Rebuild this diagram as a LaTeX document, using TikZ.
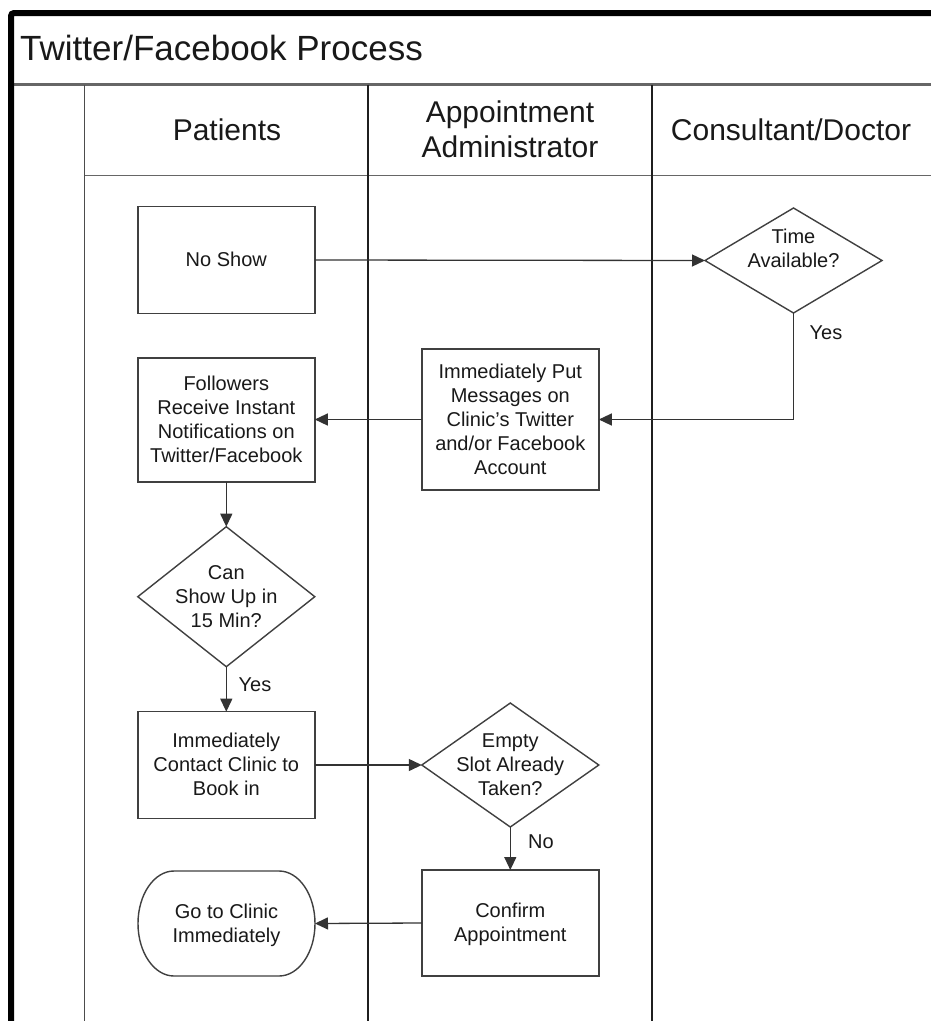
\documentclass[tikz,border=0pt]{standalone}
\usepackage{fontspec}
\setmainfont{Liberation Sans}
\usetikzlibrary{arrows.meta,shapes.geometric,calc}
\newcommand\dtxt[2][0pt]{\makebox[0pt]{\raisebox{\dimexpr-7pt+#1\relax}[0pt][0pt]{\begin{tabular}{@{}c@{}}#2\end{tabular}}}}
\begin{document}
\begin{tikzpicture}[x=1pt,y=-1pt,
  every node/.style={font=\fontsize{20}{24}\selectfont, text=black!90},
  box/.style={draw=black!75, line width=1.4pt, rectangle, inner sep=0pt, outer sep=0pt, minimum width=177pt},
  dec/.style={draw=black!75, line width=1.4pt, diamond, inner sep=0pt, outer sep=0pt, minimum width=177pt},
  term/.style={rectangle, inner sep=0pt, outer sep=0pt, minimum width=177pt, minimum height=105pt},
  termline/.style={draw=black!75, line width=1.4pt},
  arr/.style={draw=black!80, line width=1.3pt, -{Triangle[length=13pt,width=12pt]}},
  lane/.style={draw=black!88, line width=1.6pt},
  hdr/.style={font=\fontsize{30}{35}\selectfont, align=center, text=black!90},
  lbl/.style={font=\fontsize{20}{24}\selectfont, text=black!90}]
\clip (0,0) rectangle (931,1021);
\fill[white] (0,0) rectangle (931,1021);

% pool frame and lanes
\draw[line width=2.5pt, black!60] (11,84.5) -- (940,84.5);
\draw[line width=1.8pt, black!60] (84.3,175.5) -- (940,175.5);
\draw[line width=1.3pt, black!70] (84.3,84.5) -- (84.3,1030);
\draw[lane] (367.7,84.5) -- (367.7,1030);
\draw[lane] (651.7,84.5) -- (651.7,1030);
\draw[line width=6pt, black, rounded corners=3pt] (11,1040) -- (11,13) -- (950,13);

% titles
\node[font=\fontsize{35}{40}\selectfont, anchor=base west, inner sep=0pt] (title) at (20,60) {Twitter/Facebook Process};
\node[hdr] (hpat) at (227,130) {Patients};
\node[hdr] (hadm) at (510,129) {Appointment\\Administrator};
\node[hdr] (hdoc) at (791,130) {Consultant/Doctor};

% nodes
\node[box, minimum height=106.6pt] (ns) at (226.3,260) {\dtxt{No Show}};
\node[dec, minimum height=105pt] (ta) at (793.5,260.5) {\dtxt[12pt]{Time\\Available?}};
\node[box, minimum height=141pt] (put) at (510.3,419.5) {\dtxt{Immediately Put\\Messages on\\Clinic’s Twitter\\and/or Facebook\\Account}};
\node[box, minimum height=123.7pt] (fol) at (226.3,420) {\dtxt{Followers\\Receive Instant\\Notifications on\\Twitter/Facebook}};
\node[dec, minimum height=140pt] (cs) at (226.3,596.7) {\dtxt{Can\\Show Up in\\15 Min?}};
\node[box, minimum height=106.6pt] (ct) at (226.3,765) {\dtxt{Immediately\\Contact Clinic to\\Book in}};
\node[dec, minimum height=124pt] (es) at (510.3,765) {\dtxt{Empty\\Slot Already\\Taken?}};
\node[box, minimum height=106pt] (cf) at (510.3,923) {\dtxt{Confirm\\Appointment}};
\node[term] (go) at (226.5,923.5) {\dtxt{Go to Clinic\\Immediately}};
\draw[termline] ($(go.north east)+(-36,0)$) arc[start angle=90,end angle=-90,x radius=36pt,y radius=52.5pt]
  -- ($(go.south west)+(36,0)$) arc[start angle=270,end angle=90,x radius=36pt,y radius=52.5pt] -- cycle;

% connectors
\draw[arr] (ns.east) -- (ta.west);
\draw[arr] (ta.south) |- (put.east);
\draw[arr] (put.west) -- (fol.east |- put.west);
\draw[arr] (fol.south) -- (cs.north);
\draw[arr] (cs.south) -- (ct.north);
\draw[arr] (ct.east) -- (es.west);
\draw[arr] (es.south) -- (cf.north);
\draw[arr] (cf.west) -- (go.east);

% labels
\node[lbl] (yes1) at (826,333) {Yes};
\node[lbl] (yes2) at (255,685) {Yes};
\node[lbl] (no1) at (541,842) {No};
\end{tikzpicture}
\end{document}
